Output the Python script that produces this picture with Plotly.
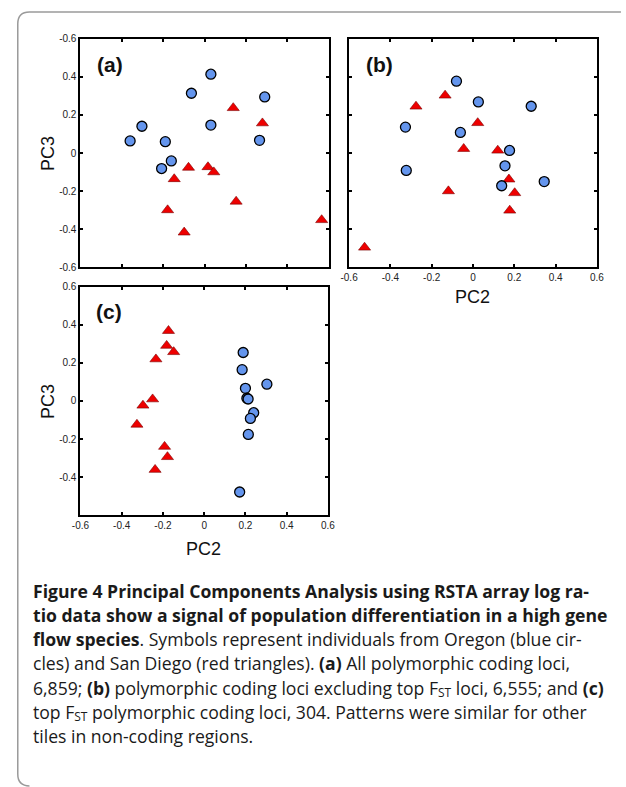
import plotly.graph_objects as go

W, H = 626, 787

# ---------------- data ----------------
a_blue_x = [-0.36, -0.303, -0.19, -0.161, -0.208, -0.064, 0.030, 0.030, 0.290, 0.265]
a_blue_y = [0.064, 0.141, 0.060, -0.041, -0.081, 0.314, 0.414, 0.147, 0.295, 0.067]
a_red_x = [0.138, 0.279, -0.078, 0.016, 0.044, -0.147, -0.179, -0.099, 0.152, 0.565]
a_red_y = [0.237, 0.157, -0.076, -0.073, -0.100, -0.136, -0.299, -0.416, -0.254, -0.351]

b_blue_x = [-0.080, 0.026, 0.282, -0.327, -0.061, 0.177, 0.155, -0.323, 0.139, 0.345]
b_blue_y = [0.377, 0.268, 0.245, 0.135, 0.107, 0.012, -0.069, -0.093, -0.174, -0.152]
b_red_x = [-0.135, -0.276, 0.023, -0.045, 0.120, 0.174, 0.202, -0.119, 0.178, -0.525]
b_red_y = [0.302, 0.244, 0.157, 0.021, 0.012, -0.140, -0.212, -0.202, -0.304, -0.499]

c_blue_x = [0.189, 0.184, 0.200, 0.207, 0.213, 0.304, 0.240, 0.224, 0.214, 0.172]
c_blue_y = [0.254, 0.164, 0.066, 0.014, 0.010, 0.088, -0.062, -0.092, -0.176, -0.478]
c_red_x = [-0.173, -0.182, -0.148, -0.234, -0.250, -0.297, -0.326, -0.192, -0.178, -0.238]
c_red_y = [0.368, 0.290, 0.257, 0.219, 0.009, -0.024, -0.124, -0.240, -0.294, -0.361]

tick_vals = [-0.6, -0.4, -0.2, 0, 0.2, 0.4, 0.6]
x_tick_text = ["-0.6", "-0.4", "-0.2", "0", "0.2", "0.4", "0.6"]
a_y_tick_text = ["-0.6", "-0.4", "-0.2", "0", "0.2", "0.4", "-0.6"]
c_y_tick_vals = [-0.4, -0.2, 0, 0.2, 0.4, 0.6]
c_y_tick_text = ["-0.4", "-0.2", "0", "0.2", "0.4", "0.6"]

panel_labels = ["(a)", "(b)", "(c)"]
SUB_ST = "<span style='font-size:12px;baseline-shift:-2px'>ST</span>"
caption_lines = [
    "<b>Figure 4 Principal Components Analysis using RSTA array log ra-</b>",
    "<b>tio data show a signal of population differentiation in a high gene</b>",
    "<b>flow species</b>. Symbols represent individuals from Oregon (blue cir-",
    "cles) and San Diego (red triangles). <b>(a)</b> All polymorphic coding loci,",
    f"6,859; <b>(b)</b> polymorphic coding loci excluding top F{SUB_ST} loci, 6,555; and <b>(c)</b>",
    f"top F{SUB_ST} polymorphic coding loci, 304. Patterns were similar for other",
    "tiles in non-coding regions.",
]

# ---------------- layout helpers ----------------
def px_x(p):
    return p / W

def px_y(p):
    return 1 - p / H

panels = {
    # name: (left, right, top, bottom) in pixels
    "a": (73.3, 328.3, 34.2, 265.8),
    "b": (349.0, 603.3, 34.3, 265.0),
    "c": (73.3, 327.3, 285.2, 516.8),
}

BLUE = "#6495ed"
RED = "#ee0000"
SANS = "Liberation Sans, Arial, sans-serif"
TICK_FONT = dict(family=SANS, size=10, color="#222")

fig = go.Figure()

series = {
    "a": (a_blue_x, a_blue_y, a_red_x, a_red_y),
    "b": (b_blue_x, b_blue_y, b_red_x, b_red_y),
    "c": (c_blue_x, c_blue_y, c_red_x, c_red_y),
}

for i, name in enumerate(["a", "b", "c"]):
    bx, by, rx, ry = series[name]
    xa = "x" if i == 0 else f"x{i+1}"
    ya = "y" if i == 0 else f"y{i+1}"
    fig.add_trace(go.Scatter(
        x=rx, y=ry, mode="markers", xaxis=xa, yaxis=ya, showlegend=False,
        marker=dict(symbol="triangle-up", size=10.5, color=RED,
                    line=dict(color="#7a0000", width=0.6)),
    ))
    fig.add_trace(go.Scatter(
        x=bx, y=by, mode="markers", xaxis=xa, yaxis=ya, showlegend=False,
        marker=dict(symbol="circle", size=10, color=BLUE,
                    line=dict(color="#000", width=1.3)),
    ))

common_axis = dict(
    range=[-0.6, 0.6], showgrid=False, zeroline=False,
    showline=True, linecolor="black", linewidth=2, mirror="ticks",
    ticks="inside", ticklen=3, tickwidth=1.5, tickcolor="black",
    tickvals=tick_vals, tickfont=TICK_FONT, fixedrange=True,
)

layout_axes = {}
for i, name in enumerate(["a", "b", "c"]):
    l, r, t, b = panels[name]
    xk = "xaxis" if i == 0 else f"xaxis{i+1}"
    yk = "yaxis" if i == 0 else f"yaxis{i+1}"
    ya_anchor = "x" if i == 0 else f"x{i+1}"
    xa_anchor = "y" if i == 0 else f"y{i+1}"
    xa = dict(common_axis, domain=[px_x(l), px_x(r)], anchor=xa_anchor,
              ticktext=x_tick_text)
    ya = dict(common_axis, domain=[px_y(b), px_y(t)], anchor=ya_anchor)
    if name == "a":
        xa["showticklabels"] = False
        ya["ticktext"] = a_y_tick_text
    elif name == "b":
        ya["showticklabels"] = False
        ya["ticktext"] = a_y_tick_text
    else:
        ya["tickvals"] = c_y_tick_vals
        ya["ticktext"] = c_y_tick_text
    layout_axes[xk] = xa
    layout_axes[yk] = ya

annotations = []
label_pos = {"a": (88, 60), "b": (364, 60), "c": (87, 310)}
for name, lab in zip(["a", "b", "c"], panel_labels):
    x0, y0 = label_pos[name]
    annotations.append(dict(
        text=f"<b>{lab}</b>", x=px_x(x0), y=px_y(y0), xref="paper", yref="paper",
        xanchor="left", yanchor="middle", showarrow=False,
        font=dict(family=SANS, size=21, color="#111"),
    ))

TITLE_FONT = dict(family=SANS, size=18, color="#111")
for txt, x0, y0, ang in [("PC3", 40, 150, -90), ("PC3", 40, 401, -90),
                         ("PC2", 476, 296, 0), ("PC2", 200, 551, 0)]:
    annotations.append(dict(
        text=txt, x=px_x(x0), y=px_y(y0), xref="paper", yref="paper",
        xanchor="center", yanchor="middle", textangle=ang, showarrow=False,
        font=TITLE_FONT,
    ))

CAP_FONT = dict(family="Open Sans, Noto Sans, sans-serif", size=17.6, color="#1a1a1a")
cap_top = 580
cap_step = 24.6
for k, line in enumerate(caption_lines):
    annotations.append(dict(
        text=line, x=px_x(24), y=px_y(cap_top + k * cap_step), xref="paper", yref="paper",
        xanchor="left", yanchor="top", showarrow=False, align="left",
        borderpad=0, font=CAP_FONT,
    ))

# rounded frame (top-left corner visible, continues beyond right/bottom)
fl, ft, fb, rad = 9, 7, 791, 12
frame_path = (
    f"M {px_x(W + 2)},{px_y(ft)} L {px_x(fl + rad)},{px_y(ft)} "
    f"Q {px_x(fl)},{px_y(ft)} {px_x(fl)},{px_y(ft + rad)} "
    f"L {px_x(fl)},{px_y(fb - rad)} "
    f"Q {px_x(fl)},{px_y(fb)} {px_x(fl + rad)},{px_y(fb)}"
)
shapes = [dict(type="path", path=frame_path, xref="paper", yref="paper",
               line=dict(color="#9a9a9a", width=1.5))]

fig.update_layout(
    width=W, height=H, margin=dict(l=0, r=0, t=0, b=0),
    paper_bgcolor="white", plot_bgcolor="white",
    annotations=annotations, shapes=shapes, showlegend=False,
    **layout_axes,
)

fig.write_html(
    "out.html",
    config={"displayModeBar": False},
    post_script="document.body.style.margin='0';document.body.style.overflow='hidden';",
)
